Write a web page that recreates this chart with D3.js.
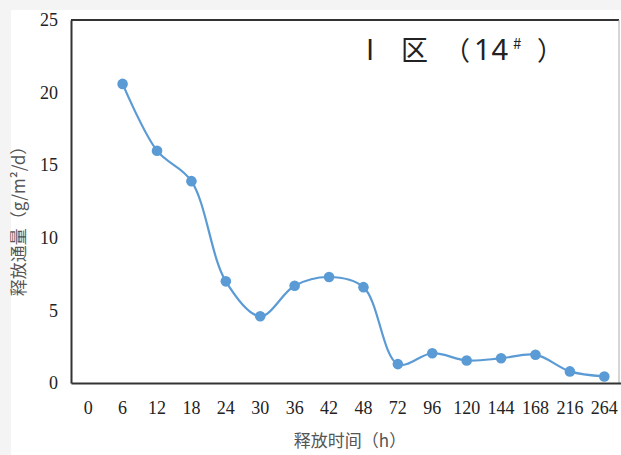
<!DOCTYPE html>
<html>
<head>
<meta charset="utf-8">
<script src="https://cdn.jsdelivr.net/npm/d3@7"></script>
<style>
  body { margin: 0; background: #f4f4f4; }
  svg { display: block; }
</style>
</head>
<body>
<svg id="chart" width="621" height="455"></svg>
<script>
var hours = ["0", "6", "12", "18", "24", "30", "36", "42", "48", "72", "96", "120", "144", "168", "216", "264"];
var fluxHours = ["6", "12", "18", "24", "30", "36", "42", "48", "72", "96", "120", "144", "168", "216", "264"];
var fluxValues = [20.6, 16.0, 13.9, 7.0, 4.6, 6.7, 7.3, 6.6, 1.3, 2.05, 1.55, 1.7, 1.95, 0.8, 0.45];
var yTicks = [0, 5, 10, 15, 20, 25];

var svg = d3.select("#chart");

// note: "top" is a reserved window property, so use other names
var plotLeft = 71, plotRight = 621.5, plotTop = 20, plotBottom = 383;

svg.append("rect")
  .attr("x", 11).attr("y", 10)
  .attr("width", 610).attr("height", 445)
  .style("fill", "#fff");

var x = d3.scaleBand().domain(hours).range([plotLeft, plotRight]);
var y = d3.scaleLinear().domain([0, 25]).range([plotBottom, plotTop]);

// frame
svg.append("line")
  .attr("x1", plotLeft).attr("x2", 619)
  .attr("y1", plotTop).attr("y2", plotTop)
  .style("stroke", "#333").style("stroke-width", 2);
svg.append("line")
  .attr("x1", 619).attr("x2", 619)
  .attr("y1", plotTop).attr("y2", plotBottom)
  .style("stroke", "#aaa").style("stroke-width", 1);

var yAxis = svg.append("g")
  .attr("transform", "translate(" + plotLeft + ",0)")
  .call(d3.axisLeft(y).tickValues(yTicks).tickSize(0).tickPadding(13));
yAxis.select(".domain").style("stroke", "#333").style("stroke-width", 2);
yAxis.selectAll("text")
  .style("font-family", "'Liberation Serif', serif")
  .style("font-size", "18px")
  .style("fill", "#222");

var xAxis = svg.append("g")
  .attr("transform", "translate(0," + plotBottom + ")")
  .call(d3.axisBottom(x).tickSize(0).tickPadding(18));
xAxis.select(".domain").style("stroke", "#333").style("stroke-width", 2);
xAxis.selectAll("text")
  .style("font-family", "'Liberation Serif', serif")
  .style("font-size", "18px")
  .style("fill", "#222");

var points = fluxHours.map(function (h, i) {
  return { h: h, v: fluxValues[i] };
});

var line = d3.line()
  .x(function (d) { return x(d.h) + x.bandwidth() / 2; })
  .y(function (d) { return y(d.v); })
  .curve(d3.curveCatmullRom.alpha(0.5));

svg.append("path")
  .datum(points)
  .attr("d", line)
  .style("fill", "none")
  .style("stroke", "#5b9bd5")
  .style("stroke-width", 2.2);

svg.selectAll(".dot")
  .data(points)
  .enter()
  .append("circle")
  .attr("class", "dot")
  .attr("cx", function (d) { return x(d.h) + x.bandwidth() / 2; })
  .attr("cy", function (d) { return y(d.v); })
  .attr("r", 5.3)
  .style("fill", "#5b9bd5");

// title
var title = svg.append("text")
  .attr("y", 60)
  .style("font-family", "'Noto Sans CJK SC', sans-serif")
  .style("font-size", "28px")
  .style("fill", "#222");
title.append("tspan").attr("x", 366).text("I");
title.append("tspan").attr("x", 401).style("font-size", "27px").text("区");
title.append("tspan").attr("x", 444).style("font-size", "26px").text("（");
title.append("tspan").attr("x", 474).style("font-family", "'Noto Sans', sans-serif")
  .style("font-size", "29px").style("letter-spacing", "1px").text("14");
title.append("tspan").attr("x", 513).attr("y", 49).style("font-size", "15px").text("#");
title.append("tspan").attr("x", 537).attr("y", 60).style("font-size", "26px").text("）");

svg.append("text")
  .attr("transform", "translate(25,217) rotate(-90)")
  .attr("text-anchor", "middle")
  .style("font-family", "'Noto Sans CJK SC', serif")
  .style("font-size", "17px")
  .style("fill", "#555")
  .text("释放通量（g/m²/d）");

svg.append("text")
  .attr("x", 350).attr("y", 447)
  .attr("text-anchor", "middle")
  .style("font-family", "'Noto Sans CJK SC', serif")
  .style("font-size", "17px")
  .style("fill", "#555")
  .text("释放时间（h）");
</script>
</body>
</html>
